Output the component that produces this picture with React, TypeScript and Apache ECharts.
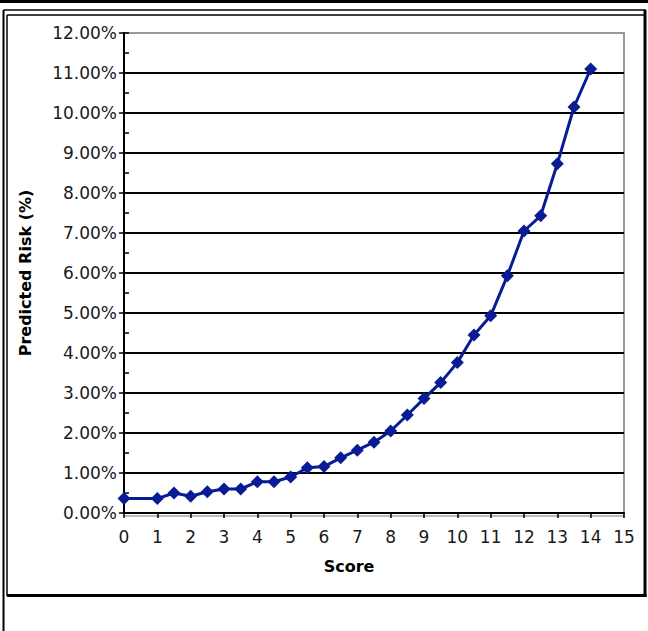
import React, { useEffect, useRef } from "react";
import * as echarts from "echarts";

const scores = [0, 1, 1.5, 2, 2.5, 3, 3.5, 4, 4.5, 5, 5.5, 6, 6.5, 7, 7.5, 8, 8.5, 9, 9.5, 10, 10.5, 11, 11.5, 12, 12.5, 13, 13.5, 14];
const risk = [0.36, 0.36, 0.5, 0.42, 0.53, 0.6, 0.6, 0.78, 0.78, 0.9, 1.13, 1.16, 1.38, 1.57, 1.77, 2.05, 2.45, 2.86, 3.26, 3.76, 4.45, 4.93, 5.93, 7.05, 7.43, 8.73, 10.15, 11.1];
const xTitle = "Score";
const yTitle = "Predicted Risk (%)";

export default function App() {
  const ref = useRef<HTMLDivElement>(null);
  useEffect(() => {
    if (!ref.current) return;
    const chart = echarts.init(ref.current, null, { renderer: "svg" });
    const font = "DejaVu Sans";
    const splitColors = Array.from({ length: 13 }, (_, i) => (i === 12 ? "#999999" : "#000000"));
    chart.setOption({
      animation: false,
      backgroundColor: "#ffffff",
      textStyle: { fontFamily: font },
      grid: {
        left: 124,
        top: 33,
        width: 500,
        height: 480,
        show: true,
        borderColor: "#999999",
        borderWidth: 2,
      },
      xAxis: {
        type: "value",
        min: 0,
        max: 15,
        interval: 1,
        axisLine: { show: true, onZero: false, lineStyle: { color: "#000", width: 2 } },
        axisTick: { show: true, length: 5, lineStyle: { color: "#000", width: 1.5 } },
        axisLabel: { fontSize: 17, color: "#1a1a1a", margin: 15, fontFamily: font },
        splitLine: { show: false },
      },
      yAxis: [
        {
          type: "value",
          min: 0,
          max: 12,
          interval: 1,
          name: yTitle,
          nameLocation: "middle",
          nameGap: 91,
          nameRotate: 90,
          nameTextStyle: { fontSize: 16, fontWeight: "bold", color: "#000", fontFamily: font },
          axisLine: { show: true, lineStyle: { color: "#000", width: 2 } },
          axisTick: { show: true, length: 5, lineStyle: { color: "#000", width: 1.5 } },
          axisLabel: {
            fontSize: 17,
            color: "#1a1a1a",
            margin: 7,
            fontFamily: font,
            formatter: (v: number) => v.toFixed(2) + "%",
          },
          splitLine: { show: true, lineStyle: { color: splitColors, width: 2 } },
        },
        {
          type: "value",
          position: "left",
          min: 0,
          max: 12,
          interval: 0.5,
          axisLine: { show: false },
          axisTick: { show: true, inside: true, length: 5, lineStyle: { color: "#000", width: 1.5 } },
          axisLabel: { show: false },
          splitLine: { show: false },
        },
      ],
      series: [
        {
          type: "line",
          yAxisIndex: 0,
          data: scores.map((s, i) => [s, risk[i]]),
          symbol: "diamond",
          symbolSize: 13,
          color: "#0A1C94",
          itemStyle: { color: "#0A1C94" },
          lineStyle: { color: "#0A1C94", width: 3 },
          z: 5,
        },
      ],
      graphic: [
        { type: "rect", shape: { x: 0, y: 0, width: 648, height: 3 }, style: { fill: "#000" } },
        { type: "line", shape: { x1: 3.5, y1: 10, x2: 646, y2: 10 }, style: { stroke: "#000", lineWidth: 1.5 } },
        { type: "line", shape: { x1: 7, y1: 15, x2: 646, y2: 15 }, style: { stroke: "#000", lineWidth: 1.5 } },
        { type: "line", shape: { x1: 3.5, y1: 10, x2: 3.5, y2: 631 }, style: { stroke: "#000", lineWidth: 2 } },
        { type: "line", shape: { x1: 7, y1: 15, x2: 7, y2: 596 }, style: { stroke: "#000", lineWidth: 1.5 } },
        { type: "line", shape: { x1: 645, y1: 10, x2: 645, y2: 597 }, style: { stroke: "#000", lineWidth: 3 } },
        { type: "line", shape: { x1: 7, y1: 595.5, x2: 646.5, y2: 595.5 }, style: { stroke: "#000", lineWidth: 3 } },
        { type: "line", shape: { x1: 124, y1: 516, x2: 624, y2: 516 }, style: { stroke: "#bbbbbb", lineWidth: 2 } },
        {
          type: "text",
          x: 349,
          y: 566,
          style: {
            text: xTitle,
            font: "bold 16px 'DejaVu Sans'",
            fill: "#000",
            align: "center",
            verticalAlign: "middle",
          },
        },
      ],
    });
    return () => chart.dispose();
  }, []);
  return <div ref={ref} style={{ width: 648, height: 631, position: "absolute", left: 0, top: 0 }} />;
}
